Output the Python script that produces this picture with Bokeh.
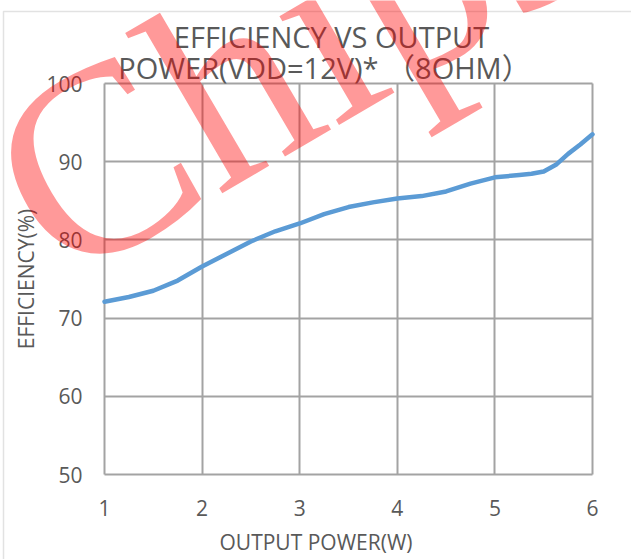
from bokeh.plotting import figure
from bokeh.models import Label, Range1d, BoxAnnotation
from bokeh.embed import file_html
from bokeh.resources import INLINE

# ---- data ----
power_w = [1.0, 1.25, 1.5, 1.75, 2.0, 2.25, 2.5, 2.75, 3.0, 3.25, 3.5,
           3.75, 4.0, 4.25, 4.5, 4.75, 5.0, 5.25, 5.375, 5.5, 5.625, 5.75, 5.875, 6.0]
efficiency = [72.1, 72.7, 73.5, 74.8, 76.6, 78.2, 79.8, 81.1, 82.1, 83.3, 84.2,
              84.8, 85.3, 85.6, 86.2, 87.2, 88.0, 88.3, 88.45, 88.75, 89.6, 91.0, 92.2, 93.5]
x_ticks = [1, 2, 3, 4, 5, 6]
y_ticks = [50, 60, 70, 80, 90, 100]
title_line1 = "EFFICIENCY VS OUTPUT"
title_line2 = "POWER(VDD=12V)* （8OHM）"
x_label = "OUTPUT POWER(W)"
y_label = "EFFICIENCY(%)"
watermark = "Chipsea"

TXT = "#595959"
GRID = "#A3A3A3"
FONT = "Open Sans, Noto Sans CJK SC"

# frame covers the whole canvas; the plot area (1..6 x 50..100) sits inside it
PX_X = 97.6   # px per W
PX_Y = 7.82   # px per %
L, R, T, B = 104, 39, 83, 85
W, H = 631, 559
x0 = x_ticks[0] - L / PX_X
x1 = x_ticks[-1] + R / PX_X
y0 = y_ticks[0] - B / PX_Y
y1 = y_ticks[-1] + T / PX_Y

p = figure(width=W, height=H,
           x_range=Range1d(x0, x1), y_range=Range1d(y0, y1),
           output_backend="svg", toolbar_location=None,
           min_border=0, background_fill_color="white",
           border_fill_color="white")
p.outline_line_color = None

# grid (also forms the plot-area border)
p.xgrid.ticker = x_ticks
p.ygrid.ticker = y_ticks
p.xgrid.cross_bounds = (y_ticks[0], y_ticks[-1])
p.ygrid.cross_bounds = (x_ticks[0], x_ticks[-1])
p.grid.grid_line_color = GRID
p.grid.grid_line_width = 2

p.line(power_w, efficiency, line_color="#5B9BD5", line_width=4.5,
       line_join="round", line_cap="round")

for ax in (p.xaxis, p.yaxis):
    ax.axis_line_color = None
    ax.major_tick_line_color = None
    ax.minor_tick_line_color = None
    ax.major_label_text_font = FONT
    ax.major_label_text_font_size = "21px"
    ax.major_label_text_color = TXT
    ax.axis_label_text_font = FONT
    ax.axis_label_text_font_size = "21px"
    ax.axis_label_text_font_style = "normal"
    ax.axis_label_text_color = TXT
p.xaxis.ticker = x_ticks
p.yaxis.ticker = y_ticks
p.xaxis.fixed_location = y_ticks[0]
p.yaxis.fixed_location = x_ticks[0]
p.yaxis.bounds = (y_ticks[0], y_ticks[-1])
p.xaxis.major_label_standoff = 19
p.yaxis.major_label_standoff = 16
p.xaxis.axis_label = x_label
p.yaxis.axis_label = y_label
p.xaxis.axis_label_standoff = 9
p.yaxis.axis_label_standoff = 3

# titles
for txt, xc, yc in ((title_line1, 3.326, 106.0), (title_line2, 3.254, 102.05)):
    p.add_layout(Label(x=xc, y=yc, text=txt, text_font=FONT,
                       text_font_size="29px", text_color=TXT,
                       text_align="center", text_baseline="middle"))

# outer chart border (left and top edges fall on the canvas)
p.add_layout(BoxAnnotation(left=-0.0348, right=x1 + 1, top=109.21, bottom=y0 - 10,
                           fill_alpha=0, line_color="#A0A0A0", line_width=1.5,
                           level="underlay"))

# watermark
p.add_layout(Label(x=0.093, y=84.06, text=watermark, angle=0.53,
                   text_font="Liberation Serif", text_font_size="270px",
                   text_color="red", text_alpha=0.4, text_align="left",
                   text_baseline="alphabetic", level="overlay"))

open("out.html", "w").write(file_html(p, INLINE))
